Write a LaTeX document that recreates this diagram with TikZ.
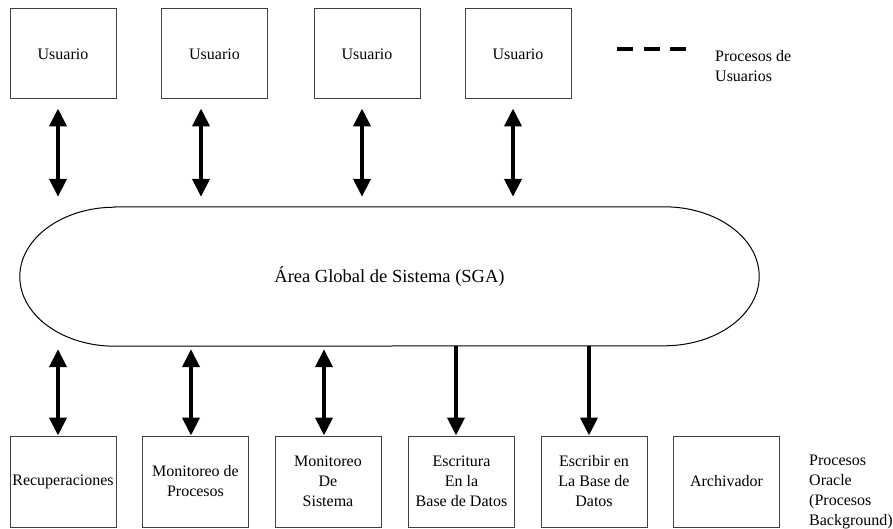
\documentclass[tikz,border=0pt]{standalone}
\usepackage{fontspec}
\setmainfont{Liberation Serif}
\usetikzlibrary{arrows.meta}
\begin{document}
\begin{tikzpicture}[x=1pt,y=-1pt,
  box/.style={draw=black!75, line width=1pt, minimum width=106pt, minimum height=90pt,
    inner sep=0pt, align=center, font=\fontsize{16}{20}\selectfont},
  bbox/.style={box, minimum height=91pt},
  tipshape/.tip={Triangle[length=18pt,width=17pt]},
  biarrow/.style={line width=4pt, tipshape-tipshape},
  downarrow/.style={line width=4pt, -tipshape},
  legendtext/.style={align=left, anchor=west, inner sep=0pt, font=\fontsize{16}{20}\selectfont},
  legenddash/.style={line width=4pt, dash pattern=on 16pt off 10.5pt},
  outline/.style={draw=black, line width=1pt}]
\useasboundingbox (0,0) rectangle (893,529);

% user boxes
\node[box] (u1) at (63,54) {Usuario};
\node[box] (u2) at (214.5,54) {Usuario};
\node[box] (u3) at (367,54) {Usuario};
\node[box] (u4) at (518,54) {Usuario};

% legend
\coordinate (d1) at (617,49);
\coordinate (d2) at (686,49);
\draw[legenddash] (d1) -- (d2);
\node[legendtext] (leg1) at (715,66) {Procesos de\\Usuarios};

% SGA
\node[inner sep=0pt, minimum width=739pt, minimum height=139pt,
  font=\fontsize{18.5}{22}\selectfont] (sga) at (389.5,276.5) {Área Global de Sistema (SGA)};
\draw[outline] ([xshift=95pt]sga.north west) -- ([xshift=-95pt]sga.north east)
  arc[start angle=90, end angle=-90, x radius=95pt, y radius=69.5pt]
  -- ([xshift=95pt]sga.south west)
  arc[start angle=270, end angle=90, x radius=95pt, y radius=69.5pt] -- cycle;

% bottom boxes
\node[bbox] (b1) at (63,481.5) {Recuperaciones};
\node[bbox] (b2) at (195.5,481.5) {Monitoreo de\\Procesos};
\node[bbox] (b3) at (328,481.5) {Monitoreo\\De\\Sistema};
\node[bbox] (b4) at (461.5,481.5) {Escritura\\En la\\Base de Datos};
\node[bbox] (b5) at (594,481.5) {Escribir en\\La Base de\\Datos};
\node[bbox] (b6) at (726.5,481.5) {Archivador};
\node[legendtext] (leg2) at (809,492) {Procesos\\Oracle\\(Procesos\\Background)};

% top arrows
\coordinate (t1) at ([xshift=-5pt]u1.south);
\coordinate (t2) at ([xshift=-13.5pt]u2.south);
\coordinate (t3) at ([xshift=-5pt]u3.south);
\coordinate (t4) at ([xshift=-5pt]u4.south);
\foreach \t in {t1,t2,t3,t4}
  \draw[biarrow, shorten <=9pt, shorten >=10pt] (\t) -- (\t |- sga.north);

% bottom arrows
\coordinate (p1) at ([xshift=-5pt]b1.north);
\coordinate (p2) at ([xshift=-4.5pt]b2.north);
\coordinate (p3) at ([xshift=-4pt]b3.north);
\coordinate (p4) at ([xshift=-5.5pt]b4.north);
\coordinate (p5) at ([xshift=-5pt]b5.north);
\foreach \p in {p1,p2,p3}
  \draw[biarrow, shorten <=3pt] (\p |- sga.south) -- (\p);
\foreach \p in {p4,p5}
  \draw[downarrow] (\p |- sga.south) -- (\p);
\end{tikzpicture}
\end{document}
